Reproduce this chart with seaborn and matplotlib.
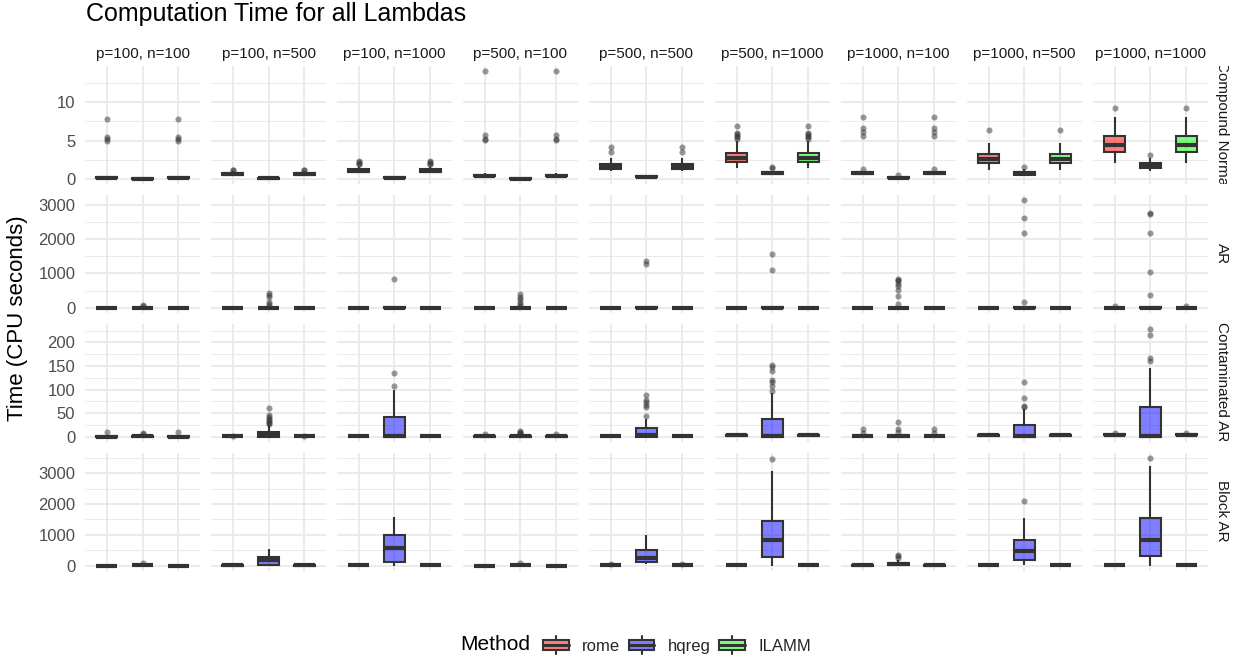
import numpy as np
import pandas as pd
import matplotlib
matplotlib.use("Agg")
import matplotlib.pyplot as plt
import seaborn as sns
from matplotlib.ticker import MultipleLocator
from matplotlib.legend_handler import HandlerBase
from matplotlib.patches import Rectangle, Patch
from matplotlib.lines import Line2D
from matplotlib.transforms import Bbox, TransformedBbox

# ---------------- data ----------------
settings = ["p=100, n=100", "p=100, n=500", "p=100, n=1000",
            "p=500, n=100", "p=500, n=500", "p=500, n=1000",
            "p=1000, n=100", "p=1000, n=500", "p=1000, n=1000"]
designs = ["Compound Normal", "AR", "Contaminated AR", "Block AR"]
methods = ["rome", "hqreg", "ILAMM"]

# five-number summaries per setting: (lower whisker, Q1, median, Q3, upper whisker)
cn_rome = [(0.05, 0.12, 0.18, 0.25, 0.40), (0.40, 0.55, 0.65, 0.78, 1.00), (0.75, 0.95, 1.10, 1.30, 1.60),
           (0.20, 0.35, 0.45, 0.55, 0.80), (1.00, 1.30, 1.50, 2.00, 2.70), (1.38, 2.20, 2.76, 3.32, 4.90),
           (0.50, 0.65, 0.75, 0.85, 1.05), (1.16, 2.07, 2.63, 3.19, 4.74), (2.03, 3.49, 4.44, 5.56, 8.06)]
cn_hqreg = [(0.00, 0.03, 0.05, 0.08, 0.12), (0.02, 0.05, 0.08, 0.11, 0.16), (0.08, 0.12, 0.15, 0.20, 0.30),
            (0.00, 0.03, 0.06, 0.10, 0.15), (0.15, 0.25, 0.30, 0.35, 0.45), (0.50, 0.62, 0.78, 0.90, 1.10),
            (0.05, 0.10, 0.15, 0.20, 0.30), (0.40, 0.55, 0.75, 0.95, 1.30), (1.03, 1.38, 1.65, 2.03, 2.75)]
cn_ilamm = [(0.05, 0.12, 0.18, 0.25, 0.40), (0.40, 0.55, 0.65, 0.78, 1.00), (0.75, 0.95, 1.10, 1.30, 1.60),
            (0.20, 0.35, 0.45, 0.55, 0.80), (1.00, 1.30, 1.50, 2.00, 2.70), (1.38, 2.20, 2.76, 3.32, 4.90),
            (0.50, 0.65, 0.75, 0.85, 1.05), (1.16, 2.07, 2.63, 3.19, 4.74), (2.03, 3.49, 4.44, 5.56, 8.06)]
cn_rome_out = [[4.9, 5.2, 5.4, 7.8], [1.15, 1.2], [1.9, 2.0, 2.2, 2.4], [5.1, 5.2, 5.7, 14.0], [3.5, 4.1],
               [5.2, 5.4, 5.6, 5.8, 6.0, 6.9], [1.3, 5.6, 6.1, 6.6, 8.0], [6.4], [9.2]]
cn_hqreg_out = [[], [], [], [], [], [1.4, 1.5], [0.5], [1.6], [3.06]]
cn_ilamm_out = [[4.9, 5.2, 5.4, 7.8], [1.15, 1.2], [1.9, 2.0, 2.2, 2.4], [5.1, 5.2, 5.7, 14.0], [3.5, 4.1],
                [5.2, 5.4, 5.6, 5.8, 6.0, 6.9], [1.3, 5.6, 6.1, 6.6, 8.0], [6.4], [9.2]]

ar_rome = [(0.1, 0.2, 0.3, 0.4, 0.6), (0.5, 0.7, 0.8, 0.9, 1.15), (1.0, 1.2, 1.4, 1.6, 2.0),
           (0.3, 0.5, 0.6, 0.7, 0.95), (1.2, 1.6, 1.9, 2.2, 3.0), (2.0, 2.6, 3.0, 3.4, 4.5),
           (0.6, 0.8, 0.95, 1.1, 1.5), (2.0, 2.5, 3.0, 3.5, 4.8), (3.0, 4.0, 5.0, 6.0, 8.5)]
ar_hqreg = [(0.2, 1, 2, 5, 10), (0.5, 2, 4, 10, 20), (0.5, 2, 5, 12, 25),
            (0.2, 1, 2, 5, 10), (0.5, 2, 5, 12, 25), (0.5, 3, 6, 14, 28),
            (0.2, 1, 3, 8, 17), (0.5, 3, 6, 14, 28), (1, 4, 8, 18, 35)]
ar_ilamm = [(0.1, 0.2, 0.3, 0.4, 0.6), (0.5, 0.7, 0.8, 0.9, 1.15), (1.0, 1.2, 1.4, 1.6, 2.0),
            (0.3, 0.5, 0.6, 0.7, 0.95), (1.2, 1.6, 1.9, 2.2, 3.0), (2.0, 2.6, 3.0, 3.4, 4.5),
            (0.6, 0.8, 0.95, 1.1, 1.5), (2.0, 2.5, 3.0, 3.5, 4.8), (3.0, 4.0, 5.0, 6.0, 8.5)]
ar_rome_out = [[], [], [], [], [], [], [], [], [45]]
ar_hqreg_out = [[60, 80], [60, 110, 180, 320, 380, 440], [850], [40, 100, 170, 260, 320, 390],
                [1270, 1350], [1090, 1570], [100, 350, 520, 640, 700, 780, 820, 840],
                [175, 2180, 2610, 3130], [370, 1050, 2190, 2740, 2760]]
ar_ilamm_out = [[], [], [], [], [], [], [], [], [45]]

car_rome = [(0.1, 0.3, 0.5, 0.8, 1.5), (0.5, 0.8, 1.0, 1.2, 1.8), (1.0, 1.3, 1.5, 1.8, 2.5),
            (0.2, 0.4, 0.6, 0.8, 1.2), (1.0, 1.5, 1.8, 2.2, 3.0), (2.0, 2.6, 3.0, 3.5, 4.5),
            (0.5, 0.8, 1.0, 1.3, 2.0), (2.0, 2.5, 3.0, 3.5, 5.0), (3.0, 4.0, 4.5, 5.5, 8.0)]
car_hqreg = [(0, 0.5, 1, 2, 4), (0, 0.5, 4, 10.5, 25), (0, 0.5, 1.5, 42, 100),
             (0, 0.3, 1, 2, 4), (0, 0.5, 3, 18, 37), (0, 0.5, 2, 38, 92),
             (0, 0.5, 1, 3, 6), (0, 0.5, 2, 24.7, 58), (0, 0.5, 2, 62, 146)]
car_ilamm = [(0.1, 0.3, 0.5, 0.8, 1.5), (0.5, 0.8, 1.0, 1.2, 1.8), (1.0, 1.3, 1.5, 1.8, 2.5),
             (0.2, 0.4, 0.6, 0.8, 1.2), (1.0, 1.5, 1.8, 2.2, 3.0), (2.0, 2.6, 3.0, 3.5, 4.5),
             (0.5, 0.8, 1.0, 1.3, 2.0), (2.0, 2.5, 3.0, 3.5, 5.0), (3.0, 4.0, 4.5, 5.5, 8.0)]
car_rome_out = [[9], [], [], [5], [], [], [8, 16], [], []]
car_hqreg_out = [[5, 7], [28, 30, 32, 35, 38, 42, 47, 60], [107, 135], [6, 8, 10, 12],
                 [45, 62, 68, 73, 77, 88], [97, 107, 115, 120, 140, 148, 152], [9, 16, 32],
                 [62, 65, 82, 117], [161, 166, 215, 228]]
car_ilamm_out = [[9], [], [], [5], [], [], [8, 16], [], []]

bar_rome = [(0.5, 1, 1.5, 2, 3), (2, 3, 4, 5, 7), (5, 7, 8, 9, 12),
            (1, 1.5, 2, 2.5, 3.5), (5, 8, 10, 12, 16), (10, 14, 16, 18, 24),
            (2, 3, 4, 5, 7), (10, 14, 16, 19, 26), (15, 20, 24, 28, 38)]
bar_hqreg = [(0, 5, 10, 25, 50), (0, 20, 190, 292, 530), (0, 108, 563, 1007, 1571),
             (0, 5, 15, 30, 60), (40, 130, 240, 520, 985), (0, 282, 834, 1462, 3087),
             (0, 10, 40, 100, 180), (20, 184, 488, 845, 1538), (0, 314, 834, 1549, 3239)]
bar_ilamm = [(0.5, 1, 1.5, 2, 3), (2, 3, 4, 5, 7), (5, 7, 8, 9, 12),
             (1, 1.5, 2, 2.5, 3.5), (5, 8, 10, 12, 16), (10, 14, 16, 18, 24),
             (2, 3, 4, 5, 7), (10, 14, 16, 19, 26), (15, 20, 24, 28, 38)]
bar_rome_out = [[], [], [], [], [60], [], [], [], []]
bar_hqreg_out = [[80], [], [], [90], [], [3467], [260, 300, 350], [2112], [3499]]
bar_ilamm_out = [[], [], [], [], [60], [], [], [], []]

summaries = {
    "Compound Normal": {"rome": (cn_rome, cn_rome_out), "hqreg": (cn_hqreg, cn_hqreg_out), "ILAMM": (cn_ilamm, cn_ilamm_out)},
    "AR": {"rome": (ar_rome, ar_rome_out), "hqreg": (ar_hqreg, ar_hqreg_out), "ILAMM": (ar_ilamm, ar_ilamm_out)},
    "Contaminated AR": {"rome": (car_rome, car_rome_out), "hqreg": (car_hqreg, car_hqreg_out), "ILAMM": (car_ilamm, car_ilamm_out)},
    "Block AR": {"rome": (bar_rome, bar_rome_out), "hqreg": (bar_hqreg, bar_hqreg_out), "ILAMM": (bar_ilamm, bar_ilamm_out)},
}


def expand(five, outs, w=40):
    """Sample whose quartiles / whiskers reproduce the five-number summary."""
    lo, q1, med, q3, hi = five
    return [lo] + [q1] * w + [med] * w + [q3] * w + [hi] + list(outs)


records = []
for design in designs:
    for method in methods:
        fives, outs = summaries[design][method]
        for c, setting in enumerate(settings):
            for v in expand(fives[c], outs[c]):
                records.append((design, setting, method, v))
df = pd.DataFrame(records, columns=["Design", "Setting", "Method", "Time"])

# ---------------- styling ----------------
sns.set_theme(style="white")
plt.rcParams["font.family"] = ["Liberation Sans", "DejaVu Sans"]

palette = {"rome": "#FF0000", "hqreg": "#0000FF", "ILAMM": "#00FF00"}
edge = "#333333"
grid_c = "#EBEBEB"
major_step = [5, 1000, 50, 1000]

W, H = 1239, 662
fig = plt.figure(figsize=(W / 100, H / 100), dpi=100)
L, R, T, B = 85, 1208, 66, 571
gs = fig.add_gridspec(4, 9, left=L / W, right=R / W, top=1 - T / H, bottom=1 - B / H,
                      wspace=11 / 115, hspace=10.5 / 118)

for r, design in enumerate(designs):
    first = None
    for c, setting in enumerate(settings):
        ax = fig.add_subplot(gs[r, c], sharey=first)
        if first is None:
            first = ax
        sub = df[(df.Design == design) & (df.Setting == setting)]
        sns.boxplot(data=sub, x="Method", y="Time", hue="Method", order=methods,
                    hue_order=methods, palette=palette, saturation=1, width=0.6,
                    linewidth=1.5, linecolor=edge, showcaps=False, fliersize=4.4,
                    flierprops=dict(marker="o", markerfacecolor=edge,
                                    markeredgecolor="none", alpha=0.5),
                    medianprops=dict(linewidth=3.0, color=edge),
                    legend=False, ax=ax)
        for p in ax.patches:
            fc = p.get_facecolor()
            p.set_facecolor((fc[0], fc[1], fc[2], 0.5))
        ax.set_axisbelow(True)
        ax.set_xlim(-0.6, 2.6)
        ax.set_xlabel("")
        ax.set_ylabel("")
        ax.yaxis.set_major_locator(MultipleLocator(major_step[r]))
        ax.yaxis.set_minor_locator(MultipleLocator(major_step[r] / 2))
        ax.grid(which="major", axis="both", color=grid_c, linewidth=1.4)
        ax.grid(which="minor", axis="y", color=grid_c, linewidth=0.7)
        for s in ax.spines.values():
            s.set_visible(False)
        ax.tick_params(axis="both", which="both", length=0, labelbottom=False,
                       labelleft=(c == 0), labelsize=12, labelcolor="#4D4D4D", pad=7)
        if r == 0:
            ax.set_title(setting, fontsize=11, color="#1A1A1A", pad=6)
    # right strip label, clipped to the strip box like ggplot
    y0 = 1 - (T + r * 128.5 + 118) / H
    y1 = 1 - (T + r * 128.5) / H
    t = fig.text(1222 / W, (y0 + y1) / 2, design, rotation=-90, ha="center", va="center",
                 fontsize=11, color="#1A1A1A")
    t.set_clip_box(TransformedBbox(Bbox.from_extents(R / W, y0, 1.0, y1), fig.transFigure))
    t.set_clip_on(True)

fig.text(86 / W, 1 - 2 / H, "Computation Time for all Lambdas", ha="left", va="top",
         fontsize=18, color="black")
fig.text(18 / W, 1 - (T + B) / 2 / H, "Time (CPU seconds)", rotation=90, ha="center",
         va="center", fontsize=16, color="black")


class BoxKey(HandlerBase):
    def create_artists(self, legend, orig_handle, xdescent, ydescent, width, height,
                       fontsize, trans):
        fc = orig_handle.get_facecolor()
        x0, y0 = -xdescent, -ydescent
        box = Rectangle((x0, y0 + 0.22 * height), width, 0.56 * height, facecolor=fc,
                        edgecolor=edge, linewidth=1.5, transform=trans)
        med = Line2D([x0, x0 + width], [y0 + 0.5 * height] * 2, color=edge, lw=2.2,
                     transform=trans)
        w1 = Line2D([x0 + width / 2] * 2, [y0, y0 + 0.22 * height], color=edge, lw=1.5,
                    transform=trans)
        w2 = Line2D([x0 + width / 2] * 2, [y0 + 0.78 * height, y0 + height], color=edge,
                    lw=1.5, transform=trans)
        return [box, med, w1, w2]


handles = [Patch(facecolor=(*matplotlib.colors.to_rgb(palette[m]), 0.5)) for m in methods]
fig.text(460 / W, 1 - 645 / H, "Method", ha="left", va="center", fontsize=15, color="black")
fig.legend(handles, methods, loc="center left", bbox_to_anchor=(543 / W, 1 - 645 / H),
           ncol=3, frameon=False, fontsize=12, handler_map={Patch: BoxKey()},
           handlelength=1.55, handleheight=1.3, handletextpad=0.8, columnspacing=0.5,
           borderpad=0, borderaxespad=0)

fig.savefig("out.png", dpi=100)
